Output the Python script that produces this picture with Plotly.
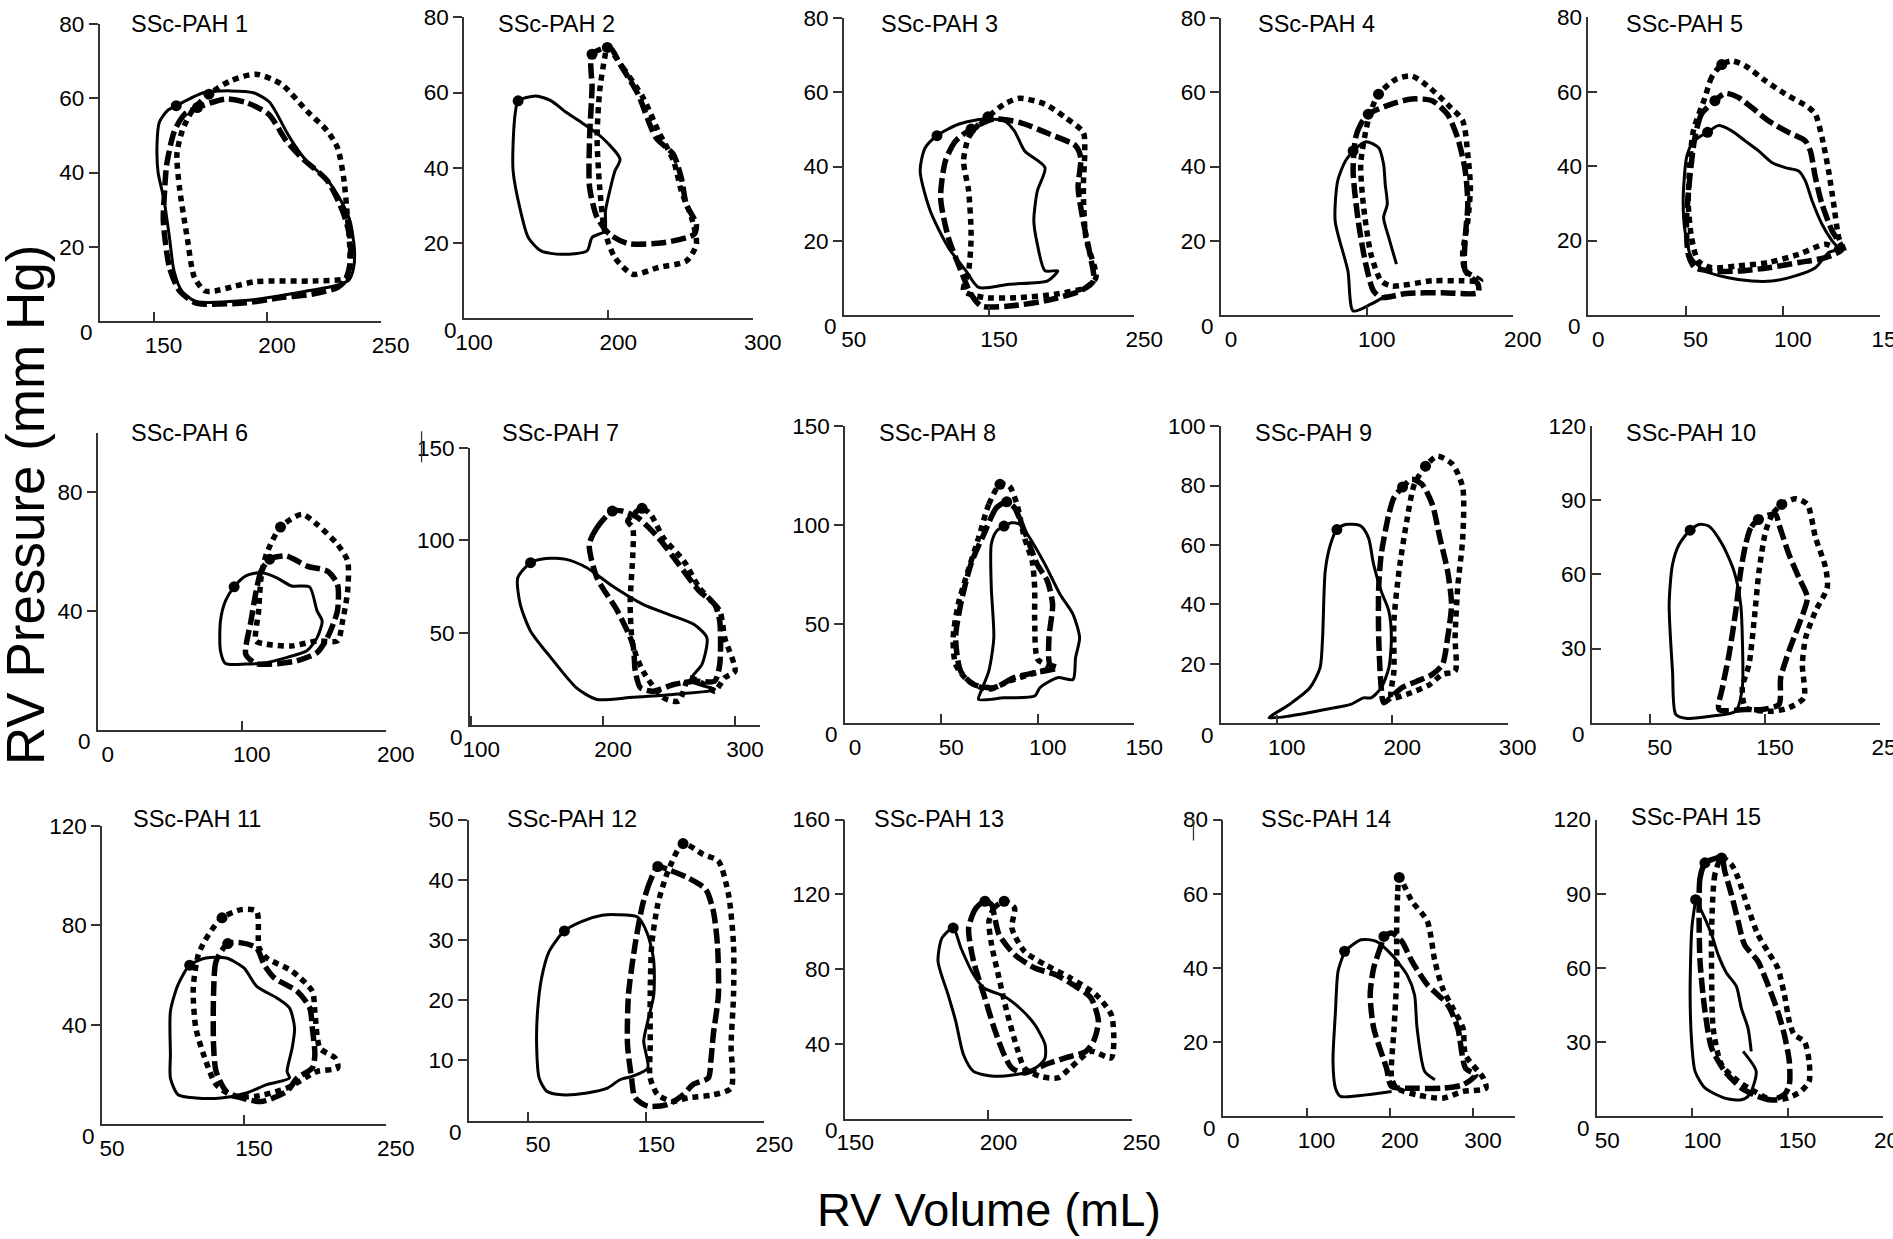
import plotly.graph_objects as go

# The photographed page maps figure pixels to picture pixels as
#   picture = S * (OFF + figure); targets below are given in picture pixels.
SX, SY, OFF = 0.9816, 0.9898, 8
W, H = 1921, 1244
FONT = "Liberation Sans, Arial, sans-serif"


def fx(t):
    return (t / SX - OFF) / W


def fy(t):
    return 1 - (t / SY - OFF) / H


# ---------------- panel axes data ----------------
titles = [f"SSc-PAH {i}" for i in range(1, 16)]
x_ranges = [[126.2, 250], [100, 300], [50, 250], [0, 200], [0, 150],
            [0, 200], [99, 319], [0, 150], [51.5, 300], [0, 250],
            [50, 250], [0, 250], [150, 250], [0, 350], [50, 200]]
y_ranges = [[0, 80], [0, 80], [0, 80], [0, 80], [0, 80],
            [0, 100], [0, 150], [0, 150], [0, 100], [0, 120],
            [0, 120], [0, 50], [0, 160], [0, 80], [0, 120]]
x_ticks = [[150, 200, 250], [100, 200, 300], [50, 150, 250], [0, 100, 200], [0, 50, 100, 150],
           [0, 100, 200], [100, 200, 300], [0, 50, 100, 150], [100, 200, 300], [50, 150, 250],
           [50, 150, 250], [50, 150, 250], [150, 200, 250], [0, 100, 200, 300], [50, 100, 150, 200]]
y_ticks = [[20, 40, 60, 80], [20, 40, 60, 80], [20, 40, 60, 80], [20, 40, 60, 80], [20, 40, 60, 80],
           [40, 80], [50, 100, 150], [50, 100, 150], [20, 40, 60, 80, 100], [30, 60, 90, 120],
           [40, 80, 120], [10, 20, 30, 40, 50], [40, 80, 120, 160], [20, 40, 60, 80], [30, 60, 90, 120]]

# ---------------- loop data (volume mL, pressure mmHg); first point = end-systolic dot ----------------
pah1_solid = [(160,58),(156,56.6),(152.5,53.5),(151.5,47),(152,40),(154.5,33),(157,22.5),(159,13.5),(162.5,8),(168,5.4),(173,5),(195,5.8),(217,8),(230,9.5),(236,11),(238,14),(238.5,19),(236.5,27),(232,33),(226.5,38),(217.5,43),(212,47.5),(208.5,51),(201,59),(194,61.5),(184,62),(172,61.5)]
pah1_dashed = [(169.3,57.5),(163.7,55.7),(159.2,51.2),(155.8,42.2),(154.7,33.3),(154.3,27),(157,14.4),(161.4,8.1),(168,5),(172.6,4.5),(190.6,4.9),(206.3,6.3),(219.7,7.2),(231,9),(234.3,10.8),(236.5,15.3),(236.5,22.5),(233.2,29.7),(226.5,37.8),(215.2,44),(208.5,48.5),(200.7,55.7),(190.6,58.9),(181.6,59.8)]
pah1_dotted = [(174.4,61.1),(167,56.6),(162.6,51.2),(160.3,45),(161.4,36),(164.8,22.5),(168,11.7),(172.6,8.1),(177,8.1),(186,9.4),(195,10.6),(222,10.8),(235.4,11.7),(236.5,18),(235.4,27.9),(233.7,38.7),(231,46.7),(226.5,51.2),(217.5,56.6),(206.3,63.8),(195,66.5),(183.9,64.7)]

pah2_solid = [(137.5,57.8),(135.7,55.1),(134,46.3),(134,39.2),(139.2,28.5),(144.5,21.5),(153.4,17.9),(167.5,17),(185.2,17.9),(188.7,21.5),(197.5,23.2),(198,28.5),(201,33.9),(204.6,39.2),(208.1,42.3),(195.8,48),(181.6,52),(171,54.7),(160.4,57.8),(149.8,59.1)]
pah2_dashed = [(188.7,70.2),(201,72),(208,67.6),(220.5,59.6),(233,48),(245,43.6),(250.5,37.4),(254,30.3),(261,25),(259.4,22.3),(238,20.1),(213.4,19.9),(201,22.3),(192.2,26.8),(187,34.8),(187,48),(188.7,61.3)]
pah2_dotted = [(199.3,72),(210,66.7),(224,58.7),(234.6,49.8),(245.2,41.8),(250.5,33.9),(257.6,26.8),(261,19.7),(254,15.2),(234.6,13.5),(217,11.7),(204.6,16.1),(197.5,23.2),(194,34.8),(192.2,48),(194,60.5),(197.5,69.3)]

pah3_solid = [(114.2,48.3),(106,45),(102.6,38.8),(109.6,28),(122,18.2),(134.2,11.9),(143,7.4),(164,8.3),(190.4,9.2),(197.4,11.9),(188.6,11.9),(183.3,19.1),(180.9,25.3),(183.3,33.4),(188.6,39.7),(174.6,44.2),(167.5,49.6),(160.5,52.3),(146.5,52.8),(129,51.4)]
pah3_dashed = [(137.7,50.1),(127,46.9),(120,41.5),(116.7,31.6),(122,20.9),(130.7,11.9),(137.7,5.6),(144.7,2.4),(164,2.4),(188.6,3.8),(213,6.5),(222,9.2),(220,15.5),(214.9,25.3),(211.4,34.3),(213.2,42.4),(209.6,45.6),(192,48.7),(171,51.9),(153.5,52.8)]
pah3_dotted = [(149.3,53.4),(143,51.4),(136,47.8),(132.5,41.5),(136,33.4),(137.7,20.9),(136,11.9),(132.5,6.5),(146.5,4.7),(171,4.7),(195.6,5.6),(216.7,7.4),(223.7,10.1),(216.7,20.9),(215,34.3),(216,44.2),(215,49.2),(202.6,53.2),(188.6,56.8),(171,58.4),(160.5,56.8)]

pah4_solid = [(90.6,44.2),(99.3,46.7),(108,45.1),(111.5,40.6),(112.6,35.2),(114,29.8),(111.5,26.2),(115,20.9),(120.3,13.7),None,(113.3,5.2),(102.8,2.9),(90.6,1.1),(87,11.9),(78.3,25.3),(80,36.1),(85.3,41.5)]
pah4_dashed = [(101,54.1),(95.8,51.4),(92.3,47.8),(90.6,38.8),(94.1,25.3),(99.3,13.7),(104.5,6.5),(109.8,4.7),(127.3,5.8),(151.7,6),(176.2,6),(176.2,8.3),(167.5,11.9),(167.5,20.9),(169.2,29.8),(167.5,38.8),(162.2,47.8),(155.2,54.1),(144.8,57.7),(130.8,58.2),(116.8,56.8)]
pah4_dotted = [(108,59.5),(102.8,55),(99.3,49.6),(95.8,40.6),(97.6,29.8),(102.8,16.4),(109.8,9.2),(116.8,7.8),(144.8,9.2),(165.7,9.2),(178,9.2),(167.5,11.9),(165.7,16.4),(169.2,25.3),(171,34.3),(169.2,43.3),(165.7,52.3),(155.2,56.8),(141.3,61.8),(130.8,64.4),(120.3,63.6)]

pah5_solid = [(61.3,49.1),(56.6,47.7),(53.1,45.9),(50.5,42.3),(48.8,31.6),(49.7,22.6),(53.1,15.4),(60,11.8),(72,10),(84,9.1),(94.3,9.1),(106.4,10.5),(116.7,12.7),(123.5,16.8),(128.7,17.7),(125.3,19.9),(120.1,24.4),(115,30.7),(111.5,36.1),(108.1,38.7),(101.2,39.6),(94.3,41),(87.5,44.1),(80.6,46.8),(73.7,49.5),(66.8,50.9)]
pah5_dashed = [(65.1,57.6),(58.2,54),(54.8,47.7),(52.2,37),(50.5,25.3),(51.4,16.3),(54.8,12.7),(63.4,11.8),(77.1,11.8),(92.6,12.7),(108.1,14.1),(121.8,15.4),(130.4,17.7),(125.3,22.6),(120.1,29.8),(116.7,37),(114.1,44.1),(111.5,46.8),(102.9,49.1),(92.6,52.2),(84,55.8),(77.1,58.5),(70.3,59.6)]
pah5_dotted = [(68.6,67.3),(63.4,63.9),(60,58.5),(54,49.5),(52.2,40.5),(51.4,29.8),(53.1,20.8),(56.5,14.5),(63.4,12.7),(77.1,13.2),(92.6,14.1),(108.1,16.3),(121.8,19),(131.3,17.2),(128.7,20.8),(126.1,29.8),(123.5,38.7),(120.1,47.7),(116.7,54),(113.2,55.8),(101.2,59.4),(90.9,63),(80.6,67),(73.7,68.3)]

pah6_solid = [(94.7,48.1),(88.7,43.4),(85.2,36.6),(85.2,26.6),(88.7,22.3),(102.8,22.1),(117,22.6),(131,24.3),(145.2,26.6),(152.3,31),(155.8,36.6),(152.3,40),(147,48.1),(134.6,48.4),(124,51.2),(113.4,52.9),(102.8,51.8)]
pah6_dashed = [(119.4,57.4),(113.4,53.4),(110,46.7),(106.4,36.6),(102.8,25.4),(109.9,22.3),(120.5,22.1),(138.2,23.2),(152.3,26),(159.4,31),(166.4,40),(166.4,49),(159.4,53.4),(145.2,55.1),(131,58.5)]
pah6_dotted = [(126.9,68.2),(117,59),(113.4,51.2),(111.7,40),(109.9,29.9),(117,28.8),(134.6,28.2),(152.3,29.9),(166.4,29.9),(170,36.6),(173.5,46.7),(173.5,56.8),(166.4,62.4),(152.3,69.1),(141.7,72.5)]

pah7_solid = [(145,87.8),(135.3,79.7),(137.2,65.3),(145,50.8),(160.5,36.4),(179.8,20.2),(195.3,13.9),(222.5,15.1),(250,16.5),(284.5,19.3),(266,24),(275,33),(278.7,47.2),(269,54.4),(249.6,59.9),(230.2,65.3),(207,75.2),(187.6,85.1),(172,89.6),(156.6,90.1)]
pah7_dashed = [(207,115.7),(195.3,106.7),(189.5,97.7),(195.3,79.7),(210.9,61.7),(222.5,43.6),(224.4,29.2),(228.3,20.2),(238,18.4),(253.5,22),(269,23.8),(284.5,23.8),(288.4,32.8),(288.4,56.2),(284.5,65.3),(272.9,72.5),(257.4,86.9),(241.9,101.3),(226.4,112.1),(214.8,115.7)]
pah7_dotted = [(229.5,117.2),(218.6,110.3),(222.5,106.7),(222.5,92.3),(220.5,65.3),(222.5,43.6),(230.2,29.2),(245.7,14.8),(257.4,13),(265.1,25.6),(276.7,22),(284.5,18.4),(292.2,25.6),(300,29.2),(292.2,47.2),(288.4,61.7),(272.9,74.3),(261.2,88.7),(245.7,101.3),(236,113.9)]

pah8_solid = [(82.5,99.4),(78.6,96.9),(75.9,90.2),(75.9,68.3),(77.2,43),(74.6,26.1),(70.6,16),(69.3,11.8),(82.5,12.6),(98.4,13.5),(101.1,17.7),(110.3,22.8),(118.3,21.9),(119.6,32.9),(121.7,43),(118.3,54.8),(111.6,64.9),(103.7,80.1),(95.8,93.5),(90.5,100.3),(86.5,101.1)]
pah8_dashed = [(83.9,111.7),(78.6,108.7),(72,95.2),(65.3,80.1),(60,59.8),(57.4,43),(60,26.1),(66.7,19.4),(77.2,17.7),(87.8,22.8),(98.4,25.3),(110.3,27.8),(106.3,29.5),(105.8,43),(107.7,59.8),(105,71.6),(99.7,80.1),(93.1,96.9),(87.8,108.9)]
pah8_dotted = [(80.4,120.5),(74.6,110.4),(69.3,93.5),(62.7,73.3),(58.7,59.8),(56.1,43),(57.4,29.5),(64,21.1),(74.6,16.9),(85.2,21.1),(95.8,24.4),(107,28),(100,32),(98.4,51.4),(98.4,68.3),(97.1,81.7),(93.1,93.5),(89.2,110.4),(85.2,119.7)]

pah9_solid = [(152.1,65.2),(146.4,60),(142,51.2),(139.7,28.8),(137.5,18.7),(128.7,12),(111,6.4),(93.4,1.9),(111,2.5),(142,4.7),(164,6.4),(175.1,8.6),(181.7,8.6),(190.5,12),(197.1,18.7),(199.3,28.8),(197.1,37.8),(190.5,44.5),(183.9,53.5),(179.5,62.4),(172.8,66.4),(159.6,66.9)]
pah9_dashed = [(209,79.5),(201.5,75.9),(197.1,70.3),(190.5,56.8),(188.3,45.6),(188.3,28.8),(190.5,12),(192.7,7),(208.2,12),(221.4,14.2),(234.7,16.5),(243.5,19.8),(248,28.8),(251.4,40),(248,51.2),(241.3,62.4),(234.7,73.7),(225.8,80.4),(217,82.1)]
pah9_dotted = [(228.9,86.5),(219.2,80.4),(212.6,68),(205.9,51.2),(201.5,34.4),(201.5,17.6),(199.3,8.6),(212.6,9.8),(232.5,13.1),(243.5,16.5),(254.5,17.6),(254.5,28.8),(256.7,45.6),(261.1,62.4),(261.1,79.3),(252.3,87.1),(239.1,89.9)]

pah10_solid = [(85,77.9),(75.4,72.1),(69.7,64),(66.8,47.9),(69.7,20.9),(72.5,3.4),(81.2,1.8),(104.3,2.7),(124.6,4.7),(130.3,14.2),(130.3,34.4),(128.9,47.9),(123.1,61.3),(113,72.1),(101.4,79.5),(92.8,80.2)]
pah10_dashed = [(144.2,82.2),(137.6,78.8),(133.2,72.1),(128.9,61.3),(124.6,45.2),(118.8,27.6),(113,14.2),(110.1,5.4),(133.2,5.4),(147.7,5.4),(162.1,7.4),(163.6,18.2),(170.8,29),(179.5,39.8),(186.7,50.6),(179.5,58.6),(170.8,68.1),(162.1,80.2),(159.2,84.3),(150.6,83.6)]
pah10_dotted = [(164.5,88.3),(156.4,84.3),(150.6,77.5),(144.8,61.3),(140.5,41.1),(136.1,23.6),(130.3,14.2),(133.2,6.1),(156.4,4.7),(170.8,6.1),(183.8,10.1),(182.4,23.6),(185.3,34.4),(193.9,45.2),(204,54.6),(202.6,62.7),(193.9,74.8),(186.7,88.3),(176.6,90.6)]

pah11_solid = [(111.8,64),(103.6,56.2),(98.2,45.4),(98.2,28),(98.2,18.5),(103.6,11.8),(116.1,10.5),(133.9,10.5),(151.8,12.5),(166.1,15.9),(182.1,18.5),(180.4,21.2),(184,30.6),(185.7,38.7),(182.1,46.8),(173.2,50.8),(159,55.5),(150,62.9),(137.5,66.9),(123.2,66.9)]
pah11_dashed = [(138.6,72.7),(130.4,65.6),(128.6,52.2),(128.6,32),(130.4,21.2),(137.5,13.2),(148.2,10.5),(162.5,9.1),(180.4,13.2),(187.5,18.5),(198.2,22.6),(200,28),(198.2,38.7),(196.4,46.8),(187.5,53.5),(171.4,58.9),(164.3,64.2),(158.9,71),(148.2,73)]
pah11_dotted = [(134.6,83.1),(125,76.3),(117.9,68.3),(114.3,54.8),(116.1,38.7),(123.2,25.3),(130.4,15.9),(142.9,11.2),(158.9,11.2),(180.4,14.5),(201.8,21.2),(216.1,22.6),(214.3,26.6),(203.6,30.6),(200,45.4),(198.2,53.5),(183.9,61.6),(166.1,66.9),(160.7,71),(158.9,85.8),(148.2,86.4)]

pah12_solid = [(80.8,31.5),(67.9,28.1),(61.5,23.7),(58.1,18.2),(57.3,12.6),(59.4,7.1),(65.8,4.9),(78.6,4.3),(100,4.6),(117.1,5.4),(127.8,6.8),(138.5,7.4),(151.3,8.7),(147.9,13.2),(151.3,16.5),(156.4,20.9),(156.4,26.5),(151.3,30.9),(142.7,33.8),(125.6,34.2),(112.8,34.1),(95.7,33.1)]
pah12_dashed = [(159.8,42.2),(153.4,39.8),(147,35.9),(140.6,29.2),(135,20.9),(134.2,12.6),(137.6,7.1),(140.6,3.8),(151.3,2.4),(168.4,2.7),(181.2,4.3),(189.7,6),(202.6,7.1),(204.7,9.9),(206.8,14.3),(211.1,20.9),(210.3,29.2),(206.8,34.8),(200.4,38.4),(185.5,40.3),(168.4,41.7)]
pah12_dotted = [(181.2,46),(168.4,41.4),(159.8,35.9),(154.7,29.2),(153.4,20.9),(153.4,12.6),(153.4,7.1),(159.8,4.3),(172.6,3.2),(185.5,3.8),(206.8,4.3),(221.8,5.4),(221.8,12.6),(223.9,20.9),(223.9,29.2),(219.7,37.5),(211.1,43.1),(198.3,44.2)]

pah13_solid = [(187.7,102),(183.8,96.7),(182.4,84.2),(185.9,66.4),(188.6,52.1),(191.3,34.2),(194.8,25.3),(202,22.7),(209.1,23.5),(214.4,25.3),(218,28.9),(219.8,32.5),(219.8,39.6),(216.2,50.3),(210.9,59.2),(205.5,65.5),(198.4,69.9),(194.8,77.1),(190.4,91.3)]
pah13_dashed = [(198.8,116.3),(195.7,112.7),(193.1,102),(194.8,84.2),(198.4,66.4),(202,48.5),(205.5,34.2),(208.2,27.1),(212.6,24.4),(219.8,28.9),(226.9,32.5),(234,36),(236.7,41.4),(238.4,52.1),(235.8,64.6),(229.5,71.7),(223.3,77.1),(216.2,80.6),(209.1,87.8),(203.7,98.5),(202,109.2),(201.1,114.5)]
pah13_dotted = [(205.5,116.3),(202,112.7),(200.2,105.6),(201.1,93.1),(203.7,75.3),(206.4,57.4),(210,37.8),(212.6,27.1),(218,22.7),(224.2,21.8),(228.6,27.1),(235.8,36),(242.9,32.5),(243.8,41.4),(242.9,55.7),(237.5,66.4),(228.6,75.3),(219.8,82.4),(212.6,89.5),(208.2,102),(209.1,112.7)]

pah14_solid = [(145.7,44.5),(137.8,39.1),(134.7,28.3),(131.7,14.8),(134.7,7.6),(140.8,5.4),(171.5,5.8),(202.1,6.7),None,(254.1,9.9),(241.9,12.1),(232.7,23.8),(229.6,32.8),(220.5,38.2),(202.1,43.6),(183.7,47.2),(165.3,47.6)]
pah14_dashed = [(192.9,48.5),(189.8,46.3),(180.6,40),(176.4,32.8),(180.6,23.8),(196,13),(202.1,8.1),(232.7,7.6),(263.3,7.6),(287.8,8.5),(303.1,11.2),(290.9,13),(281.6,23.8),(269.4,30.1),(245,35.5),(226.6,41.8),(214.3,47.2),(202.1,49.4)]
pah14_dotted = [(211.3,64.4),(209.4,59.8),(208.2,50.8),(208.2,37.3),(205.1,23.8),(202.1,10.3),(208.2,7.6),(232.7,5.8),(263.3,4.9),(287.8,6.7),(315.4,7.6),(312.3,10.3),(290.9,16.6),(287.8,23.8),(275.6,29.2),(263.3,34.6),(254.1,41.8),(245,52.6),(226.6,58)]

pah15_solid = [(101.7,87.6),(104,84.3),(110.1,73.5),(113.5,65.4),(117.9,58),(123.1,52.6),(125.7,43.8),(129.2,35.7),(130.9,26.3),None,(126.6,26.3),(133.5,18.2),(130,8.8),(125.7,6.7),(117,7.4),(106.6,11.5),(101.4,18.2),(99.7,29),(98.8,49.2),(99.7,76.2)]
pah15_dashed = [(106.6,102.5),(104,96.4),(103.5,82.9),(104,62.7),(106.6,42.5),(110.1,27.6),(117,18.2),(125.7,11.5),(134.4,8.1),(141.3,6.7),(148.3,8.8),(150.9,12.8),(150.9,22.2),(148.3,33),(144.8,42.5),(139.6,53.3),(134.4,62.7),(127.4,69.4),(124,78.9),(120.5,89.7),(117,99.1),(115.3,104.5),(110.1,103.8)]
pah15_dotted = [(115.3,104.5),(111.8,97.7),(110.1,76.2),(110.1,56),(110.9,35.7),(115.3,20.9),(124,14.2),(132.6,10.1),(141.3,6.7),(150,7.4),(156.9,10.1),(161.3,14.2),(161.3,22.2),(158.8,30.3),(153.5,33),(150.9,38.4),(148.3,49.2),(144.8,60),(139.6,66.7),(134.4,73.5),(129.2,84.3),(124,96.4),(120.5,101.8)]

panel_loops = [
    (pah1_solid, pah1_dashed, pah1_dotted), (pah2_solid, pah2_dashed, pah2_dotted),
    (pah3_solid, pah3_dashed, pah3_dotted), (pah4_solid, pah4_dashed, pah4_dotted),
    (pah5_solid, pah5_dashed, pah5_dotted), (pah6_solid, pah6_dashed, pah6_dotted),
    (pah7_solid, pah7_dashed, pah7_dotted), (pah8_solid, pah8_dashed, pah8_dotted),
    (pah9_solid, pah9_dashed, pah9_dotted), (pah10_solid, pah10_dashed, pah10_dotted),
    (pah11_solid, pah11_dashed, pah11_dotted), (pah12_solid, pah12_dashed, pah12_dotted),
    (pah13_solid, pah13_dashed, pah13_dotted), (pah14_solid, pah14_dashed, pah14_dotted),
    (pah15_solid, pah15_dashed, pah15_dotted),
]

# ---------------- layout (picture pixel boxes: x_left, x_right, y_top, y_bottom) ----------------
boxes_px = [
    (98.5, 380, 20, 316.7), (463.5, 752.6, 13.3, 314), (843.8, 1134.6, 14, 310.7),
    (1221.5, 1513.7, 14, 310.7), (1589.3, 1881.7, 13.3, 310.7),
    (96.7, 385.2, 428.3, 725.3), (469.4, 760, 443.3, 720.7), (845, 1134.6, 421.7, 718.3),
    (1221.3, 1508.6, 421.7, 719), (1593.3, 1881.7, 421.7, 718.3),
    (101, 385.2, 821.7, 1119.3), (468.4, 764.3, 815, 1116), (845.3, 1132, 815, 1114),
    (1223.9, 1515.7, 815, 1111.7), (1598.3, 1884.3, 815, 1111.7),
]
title_px = [(127.6, 20), (496, 20), (879.5, 20), (1257, 20), (1625, 20),
            (127.6, 429), (500, 429), (877, 429), (1253.5, 429), (1625, 429),
            (130, 814), (505, 814), (872, 814), (1260, 814), (1630, 812)]
inside_y = {4, 9, 14}

styles = {
    "solid": dict(color="black", width=3, dash="solid"),
    "dashed": dict(color="black", width=5.5, dash="15px,5px"),
    "dotted": dict(color="black", width=5.5, dash="6px,5px"),
}
AXC = "#333333"
TICKFONT = dict(size=22.5, family=FONT, color="black")

fig = go.Figure()
layout = dict(width=W, height=H, margin=dict(l=0, r=0, t=0, b=0, pad=0),
              paper_bgcolor="white", plot_bgcolor="white", showlegend=False,
              font=dict(family=FONT, color="black"))
annotations = []

for i in range(15):
    n = i + 1
    xa = "x" if n == 1 else f"x{n}"
    ya = "y" if n == 1 else f"y{n}"
    for kind, pts in zip(["solid", "dashed", "dotted"], panel_loops[i]):
        closed = list(pts) + [pts[0]]
        xs = [p[0] if p is not None else None for p in closed]
        ys = [p[1] if p is not None else None for p in closed]
        fig.add_trace(go.Scatter(x=xs, y=ys, mode="lines", xaxis=xa, yaxis=ya,
                                 line=dict(shape="spline", smoothing=0.7, **styles[kind]),
                                 hoverinfo="skip", connectgaps=False))
    fig.add_trace(go.Scatter(x=[lp[0][0] for lp in panel_loops[i]],
                             y=[lp[0][1] for lp in panel_loops[i]],
                             mode="markers", xaxis=xa, yaxis=ya,
                             marker=dict(color="black", size=11), hoverinfo="skip"))

    x0, x1, yt, yb = boxes_px[i]
    xkey = "xaxis" if n == 1 else f"xaxis{n}"
    ykey = "yaxis" if n == 1 else f"yaxis{n}"
    layout[xkey] = dict(domain=[fx(x0), min(fx(x1), 1)], range=x_ranges[i], anchor=ya,
                        tickvals=x_ticks[i], ticks="inside", ticklen=9, tickwidth=1.5,
                        tickcolor=AXC, showline=True, linecolor=AXC, linewidth=1.5,
                        showgrid=False, zeroline=False, ticklabelshift=10,
                        ticklabelstandoff=3, ticklabeloverflow="allow", tickfont=TICKFONT)
    layout[ykey] = dict(domain=[fy(yb), min(fy(yt), 1)], range=y_ranges[i], anchor=xa,
                        tickvals=y_ticks[i],
                        ticks="inside" if i in inside_y else "outside",
                        ticklen=9, tickwidth=1.5, tickcolor=AXC, showline=True,
                        linecolor=AXC, linewidth=1.5, showgrid=False, zeroline=False,
                        ticklabeloverflow="allow", tickfont=TICKFONT)
    # zero label (sits slightly below the axis in the reference)
    annotations.append(dict(text="0", xref=f"{xa} domain", yref=ya, x=0, y=0,
                            xanchor="right", yanchor="middle", xshift=-5, yshift=-12,
                            showarrow=False, font=TICKFONT))
    tx, ty = title_px[i]
    annotations.append(dict(text=titles[i], xref="paper", yref="paper", x=fx(tx), y=fy(ty),
                            xanchor="left", yanchor="middle", showarrow=False,
                            font=dict(size=23.5, family=FONT, color="black")))

annotations.append(dict(text="RV Volume (mL)", xref="paper", yref="paper", x=fx(989), y=fy(1205),
                        xanchor="center", yanchor="middle", showarrow=False,
                        font=dict(size=47, family=FONT, color="black")))
annotations.append(dict(text="RV Pressure (mm Hg)", xref="paper", yref="paper", x=fx(24.5), y=fy(501),
                        xanchor="center", yanchor="middle", textangle=-90, showarrow=False,
                        font=dict(size=53, family=FONT, color="black")))
layout["annotations"] = annotations
layout["shapes"] = [
    dict(type="line", xref="paper", yref="paper", x0=fx(421), x1=fx(421),
         y0=fy(427), y1=fy(458), line=dict(color=AXC, width=1.3)),
    dict(type="line", xref="paper", yref="paper", x0=fx(1194), x1=fx(1194),
         y0=fy(815), y1=fy(836), line=dict(color=AXC, width=1.3)),
]
fig.update_layout(**layout)
fig.write_html("out.html")
